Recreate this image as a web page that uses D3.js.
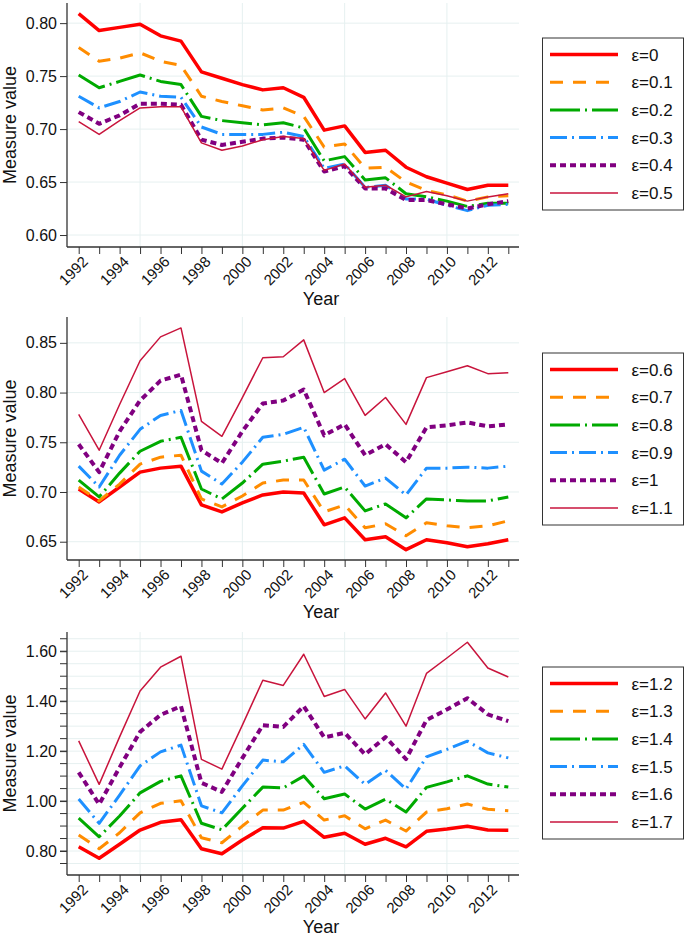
<!DOCTYPE html>
<html>
<head>
<meta charset="utf-8">
<script src="https://cdn.jsdelivr.net/npm/d3@7"></script>
<style>
  body { margin: 0; background: #fff; }
  text { font-family: "Liberation Sans", Arial, Helvetica, sans-serif; fill: #111; }
</style>
</head>
<body>
<script>
const years = d3.range(1992, 2014);

const eps1 = ["ε=0", "ε=0.1", "ε=0.2", "ε=0.3", "ε=0.4", "ε=0.5"];
const eps2 = ["ε=0.6", "ε=0.7", "ε=0.8", "ε=0.9", "ε=1", "ε=1.1"];
const eps3 = ["ε=1.2", "ε=1.3", "ε=1.4", "ε=1.5", "ε=1.6", "ε=1.7"];

// panel 1 (ε = 0 … 0.5)
const values1 = [
  [0.809, 0.793, 0.796, 0.799, 0.788, 0.783, 0.754, 0.748, 0.742, 0.737, 0.739, 0.730, 0.699, 0.703, 0.678, 0.680, 0.664, 0.655, 0.649, 0.643, 0.647, 0.647],
  [0.777, 0.764, 0.767, 0.772, 0.764, 0.760, 0.731, 0.726, 0.722, 0.718, 0.720, 0.712, 0.683, 0.686, 0.663, 0.664, 0.650, 0.642, 0.638, 0.632, 0.636, 0.637],
  [0.751, 0.739, 0.745, 0.751, 0.745, 0.742, 0.712, 0.708, 0.706, 0.704, 0.706, 0.701, 0.670, 0.674, 0.652, 0.654, 0.639, 0.636, 0.632, 0.627, 0.630, 0.630],
  [0.731, 0.720, 0.726, 0.735, 0.731, 0.730, 0.702, 0.695, 0.695, 0.695, 0.697, 0.693, 0.663, 0.667, 0.645, 0.647, 0.634, 0.634, 0.628, 0.623, 0.628, 0.629],
  [0.716, 0.705, 0.713, 0.724, 0.724, 0.723, 0.690, 0.685, 0.688, 0.691, 0.692, 0.690, 0.660, 0.665, 0.644, 0.644, 0.633, 0.633, 0.629, 0.625, 0.629, 0.632],
  [0.707, 0.695, 0.708, 0.720, 0.721, 0.721, 0.687, 0.680, 0.684, 0.690, 0.693, 0.691, 0.661, 0.667, 0.645, 0.647, 0.636, 0.641, 0.637, 0.632, 0.636, 0.639]
];

// panel 2 (ε = 0.6 … 1.1)
const values2 = [
  [0.703, 0.690, 0.705, 0.720, 0.724, 0.726, 0.687, 0.680, 0.689, 0.697, 0.700, 0.699, 0.667, 0.674, 0.652, 0.655, 0.642, 0.652, 0.649, 0.645, 0.648, 0.652],
  [0.705, 0.691, 0.708, 0.728, 0.735, 0.737, 0.693, 0.685, 0.696, 0.709, 0.712, 0.712, 0.680, 0.687, 0.664, 0.668, 0.656, 0.669, 0.666, 0.664, 0.666, 0.671],
  [0.712, 0.695, 0.719, 0.741, 0.751, 0.755, 0.703, 0.693, 0.709, 0.728, 0.731, 0.735, 0.698, 0.705, 0.681, 0.688, 0.674, 0.693, 0.692, 0.691, 0.691, 0.695],
  [0.726, 0.705, 0.737, 0.763, 0.777, 0.782, 0.721, 0.708, 0.730, 0.755, 0.758, 0.765, 0.722, 0.733, 0.706, 0.714, 0.697, 0.724, 0.724, 0.725, 0.724, 0.726],
  [0.748, 0.720, 0.761, 0.792, 0.812, 0.818, 0.742, 0.729, 0.761, 0.789, 0.792, 0.803, 0.757, 0.768, 0.737, 0.748, 0.730, 0.765, 0.767, 0.770, 0.766, 0.768],
  [0.778, 0.742, 0.788, 0.832, 0.856, 0.865, 0.771, 0.756, 0.795, 0.835, 0.836, 0.853, 0.800, 0.814, 0.777, 0.795, 0.768, 0.815, 0.821, 0.827, 0.819, 0.820]
];

// panel 3 (ε = 1.2 … 1.7)
const values3 = [
  [0.817, 0.771, 0.827, 0.884, 0.915, 0.925, 0.809, 0.789, 0.844, 0.893, 0.892, 0.919, 0.855, 0.871, 0.827, 0.851, 0.817, 0.879, 0.888, 0.899, 0.884, 0.883],
  [0.864, 0.809, 0.873, 0.953, 0.991, 1.001, 0.853, 0.833, 0.900, 0.964, 0.964, 0.995, 0.924, 0.941, 0.889, 0.924, 0.880, 0.956, 0.969, 0.988, 0.967, 0.961],
  [0.932, 0.857, 0.940, 1.033, 1.079, 1.101, 0.911, 0.885, 0.971, 1.056, 1.053, 1.100, 1.009, 1.028, 0.968, 1.008, 0.956, 1.055, 1.077, 1.101, 1.068, 1.056],
  [1.008, 0.911, 1.024, 1.141, 1.197, 1.224, 0.981, 0.953, 1.061, 1.164, 1.157, 1.227, 1.115, 1.141, 1.067, 1.123, 1.048, 1.177, 1.207, 1.240, 1.193, 1.173],
  [1.115, 0.987, 1.135, 1.277, 1.345, 1.380, 1.073, 1.037, 1.172, 1.304, 1.297, 1.380, 1.255, 1.273, 1.187, 1.256, 1.168, 1.324, 1.367, 1.412, 1.347, 1.320],
  [1.241, 1.067, 1.257, 1.441, 1.536, 1.580, 1.167, 1.128, 1.304, 1.484, 1.463, 1.588, 1.419, 1.447, 1.329, 1.433, 1.300, 1.511, 1.573, 1.636, 1.533, 1.497]
];

const styles = [
  { color: "#ff0000", width: 3.5, dash: null },
  { color: "#ff8c00", width: 3,   dash: "13,10" },
  { color: "#00aa00", width: 3,   dash: "30,5,2,5" },
  { color: "#1e90ff", width: 3,   dash: "17,5,2,5" },
  { color: "#800080", width: 4,   dash: "6,4" },
  { color: "#c8143c", width: 1.5, dash: null }
];

const width = 685, height = 939;
const svg = d3.select("body").append("svg")
  .attr("width", width).attr("height", height);

const x = d3.scaleLinear().domain([1992, 2013]).range([78.7, 508.3]);
const left = 67, right = 519;

const panels = [
  { top: 3, bottom: 247, domain: [0.5887, 0.819], ticks: d3.range(0.60, 0.801, 0.05), minor: [], grid: d3.range(0.60, 0.801, 0.05),
    fmt: d3.format(".2f"), labels: eps1, values: values1, legendTop: 38 },
  { top: 317, bottom: 560, domain: [0.6316, 0.876], ticks: d3.range(0.65, 0.851, 0.05), minor: [], grid: d3.range(0.65, 0.851, 0.05),
    fmt: d3.format(".2f"), labels: eps2, values: values2, legendTop: 353 },
  { top: 632, bottom: 875, domain: [0.704, 1.677], ticks: d3.range(0.80, 1.601, 0.2), minor: d3.range(0.75, 1.651, 0.05), grid: d3.range(0.75, 1.651, 0.05),
    fmt: d3.format(".2f"), labels: eps3, values: values3, legendTop: 667 }
];

panels.forEach(p => {
  const y = d3.scaleLinear().domain(p.domain).range([p.bottom, p.top]);
  const g = svg.append("g");

  // grid
  g.append("g").selectAll("line").data(p.grid).join("line")
    .attr("x1", left).attr("x2", right)
    .attr("y1", d => y(d)).attr("y2", d => y(d))
    .attr("stroke", "#e6f0f0").attr("stroke-width", 1);
  g.append("g").selectAll("line").data([1995, 2000, 2005, 2010]).join("line")
    .attr("x1", d => x(d)).attr("x2", d => x(d))
    .attr("y1", p.top).attr("y2", p.bottom)
    .attr("stroke", "#e6f0f0").attr("stroke-width", 1);

  // y axis
  const yAxis = g.append("g").attr("transform", `translate(${left},0)`)
    .call(d3.axisLeft(y).tickValues(p.ticks).tickFormat(p.fmt).tickSize(7).tickPadding(3));
  if (p.minor.length) {
    yAxis.append("g").selectAll("line").data(p.minor).join("line")
      .attr("x1", -7).attr("x2", 0).attr("y1", d => y(d)).attr("y2", d => y(d))
      .attr("stroke", "#333");
  }
  yAxis.select(".domain").attr("d", `M0,${p.top}V${p.bottom}`);

  // x axis
  const xAxis = g.append("g").attr("transform", `translate(0,${p.bottom})`)
    .call(d3.axisBottom(x).tickValues(years).tickFormat(d => d % 2 === 0 ? d : "").tickSize(7));
  xAxis.select(".domain").attr("d", `M${left},0H${right}`);
  xAxis.selectAll(".tick text")
    .attr("text-anchor", "end")
    .attr("dy", "0.35em")
    .attr("transform", "translate(6,12) rotate(-45)")
    .attr("y", 0).attr("x", 0)
    .style("font-size", "15px");

  [yAxis, xAxis].forEach(a => {
    a.select(".domain").attr("stroke", "#333").attr("stroke-width", 1.3);
    a.selectAll(".tick line").attr("stroke", "#333");
    a.attr("font-family", null).attr("font-size", null);
  });
  yAxis.selectAll(".tick text").style("font-size", "16px");

  // lines
  const line = d3.line().x((d, i) => x(years[i])).y(d => y(d));
  g.append("g").attr("fill", "none").selectAll("path").data(p.values).join("path")
    .attr("d", line)
    .attr("stroke", (d, i) => styles[i].color)
    .attr("stroke-width", (d, i) => styles[i].width)
    .attr("stroke-dasharray", (d, i) => styles[i].dash)
    .attr("stroke-linejoin", "round");

  // axis titles
  g.append("text")
    .attr("transform", `translate(16,${(p.top + p.bottom) / 2}) rotate(-90)`)
    .attr("text-anchor", "middle").style("font-size", "18px").text("Measure value");
  g.append("text")
    .attr("x", (left + right) / 2 + 28).attr("y", p.bottom + 58)
    .attr("text-anchor", "middle").style("font-size", "18px").text("Year");

  // legend
  const lg = g.append("g").attr("transform", `translate(542.5,${p.legendTop})`);
  lg.append("rect").attr("width", 141).attr("height", 172)
    .attr("fill", "#fff").attr("stroke", "#333").attr("stroke-width", 1);
  p.labels.forEach((lab, i) => {
    const cy = 16.5 + i * 27.7;
    lg.append("line").attr("x1", 7.5).attr("x2", 75.5).attr("y1", cy).attr("y2", cy)
      .attr("stroke", styles[i].color).attr("stroke-width", styles[i].width)
      .attr("stroke-dasharray", styles[i].dash);
    lg.append("text").attr("x", 89).attr("y", cy + 6).style("font-size", "17px").text(lab);
  });
});
</script>
</body>
</html>
